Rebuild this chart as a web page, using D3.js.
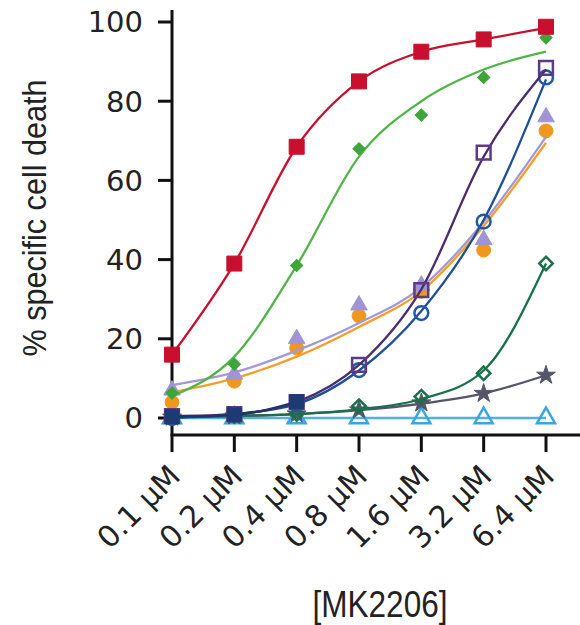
<!DOCTYPE html>
<html>
<head>
  <meta charset="utf-8">
  <script src="https://d3js.org/d3.v7.min.js"></script>
  <style>
    body { margin: 0; background: #fff; }
    text { font-family: "DejaVu Sans", sans-serif; fill: #222; }
  </style>
</head>
<body>
<script>
  // doses on the x axis (log2 spaced)
  var doses = [0.1, 0.2, 0.4, 0.8, 1.6, 3.2, 6.4];
  var doseLabels = ["0.1 \u03bcM", "0.2 \u03bcM", "0.4 \u03bcM", "0.8 \u03bcM", "1.6 \u03bcM", "3.2 \u03bcM", "6.4 \u03bcM"];
  var yTicks = [0, 20, 40, 60, 80, 100];

  // measured points
  var redPts      = [16, 39, 68.5, 85, 92.5, 95.6, 98.8];
  var greenPts    = [6.3, 13.6, 38.5, 68, 76.5, 86, 96];
  var purplePts   = [0.5, 1, 4, 13.4, 32.3, 67, 88.4];
  var bluePts     = [0, 1, 3.5, 12.1, 26.5, 49.6, 86];
  var lavPts      = [7, 11, 20, 28.5, 33.5, 45, 76];
  var orangePts   = [4, 9.3, 17.7, 25.8, 32, 42.4, 72.5];
  var dkgreenPts  = [0.2, 0.5, 1, 3, 5.4, 11.3, 39];
  var grayPts     = [0.2, 0.5, 1, 2, 3.8, 6.2, 10.8];
  var ltbluePts   = [0, 0, 0, 0, 0, 0, 0];
  var navyPts     = [0.3, 0.8, 4.1, null, null, null, null];

  // fitted curves
  var redFit     = [16, 39, 68.5, 85, 92.5, 95.6, 98.5];
  var greenFit   = [5.5, 15.5, 38.5, 66, 80, 88, 92.5];
  var purpleFit  = [0.5, 1, 4, 13.4, 32.5, 66, 88];
  var blueFit    = [0, 1, 3.5, 12, 27, 50, 85.5];
  var lavFit     = [8.3, 11.5, 17, 24, 33, 49.5, 71];
  var orangeFit  = [6.5, 10, 15.5, 23, 32, 48.5, 69.5];
  var dkgreenFit = [0.2, 0.5, 1, 2.2, 4.8, 12, 39];
  var grayFit    = [0.2, 0.5, 1, 2, 3.6, 6.2, 10.8];
  var ltblueFit  = [0, 0, 0, 0, 0, 0, 0];
  var navyFit    = [0.3, 0.8, 4.1, null, null, null, null];

  var series = [
    {pts: ltbluePts,  fit: ltblueFit,  line: "#52b0e2", color: "#3aa6dc", shape: d3.symbolTriangle, size: 140, open: true},
    {pts: grayPts,    fit: grayFit,    line: "#55556a", color: "#55556a", shape: d3.symbolStar,     size: 110, open: false},
    {pts: dkgreenPts, fit: dkgreenFit, line: "#1a7048", color: "#1a7048", shape: d3.symbolSquare,   size: 90,  open: true, rot: 45},
    {pts: orangePts,  fit: orangeFit,  line: "#f2a02a", color: "#f0981c", shape: d3.symbolCircle,   size: 150, open: false},
    {pts: lavPts,     fit: lavFit,     line: "#a498d8", color: "#a094d4", shape: d3.symbolTriangle, size: 120, open: false},
    {pts: bluePts,    fit: blueFit,    line: "#1f4f98", color: "#1f58a6", shape: d3.symbolCircle,   size: 150, open: true},
    {pts: purplePts,  fit: purpleFit,  line: "#4a2d6c", color: "#5b3a88", shape: d3.symbolSquare,   size: 190, open: true},
    {pts: navyPts,    fit: navyFit,    line: "#1d3568", color: "#1d3a72", shape: d3.symbolSquare,   size: 190, open: false},
    {pts: greenPts,   fit: greenFit,   line: "#4fb548", color: "#3ea53a", shape: d3.symbolSquare,   size: 75,  open: false, rot: 45},
    {pts: redPts,     fit: redFit,     line: "#c8102e", color: "#c8102e", shape: d3.symbolSquare,   size: 225, open: false}
  ];

  var width = 580, height = 625;
  var svg = d3.select("body").append("svg")
      .attr("width", width)
      .attr("height", height);

  var x = d3.scaleLog().domain([0.1, 6.4]).range([172, 546]);
  var y = d3.scaleLinear().domain([0, 100]).range([418, 22]);
  var axisY = 435;

  // axes lines
  svg.append("line")
      .attr("x1", 172).attr("x2", 172)
      .attr("y1", y(103)).attr("y2", axisY)
      .style("stroke", "#111").style("stroke-width", 3);
  svg.append("line")
      .attr("x1", 170.5).attr("x2", width)
      .attr("y1", axisY).attr("y2", axisY)
      .style("stroke", "#111").style("stroke-width", 3);

  // y ticks
  var yt = svg.append("g").selectAll("g").data(yTicks).enter().append("g");
  yt.append("line")
      .attr("x1", 158).attr("x2", 172)
      .attr("y1", function (d) { return y(d); })
      .attr("y2", function (d) { return y(d); })
      .style("stroke", "#111").style("stroke-width", 3);
  yt.append("text")
      .attr("x", 143)
      .attr("y", function (d) { return y(d); })
      .attr("dy", "0.36em")
      .attr("text-anchor", "end")
      .style("font-size", "29px")
      .text(function (d) { return d; });

  // x ticks
  var xt = svg.append("g").selectAll("g").data(doses).enter().append("g");
  xt.append("line")
      .attr("x1", function (d) { return x(d); })
      .attr("x2", function (d) { return x(d); })
      .attr("y1", axisY).attr("y2", axisY + 17)
      .style("stroke", "#111").style("stroke-width", 3);
  xt.append("text")
      .attr("transform", function (d) { return "translate(" + (x(d) + 10) + "," + (axisY + 43) + ") rotate(-45)"; })
      .attr("text-anchor", "end")
      .style("font-size", "30px")
      .text(function (d, i) { return doseLabels[i]; });

  // axis titles
  svg.append("text")
      .attr("x", 380).attr("y", 617)
      .attr("text-anchor", "middle")
      .attr("textLength", 135)
      .attr("lengthAdjust", "spacingAndGlyphs")
      .style("font-family", "'Liberation Sans Narrow', 'Liberation Sans', sans-serif")
      .style("font-size", "36px")
      .text("[MK2206]");
  svg.append("text")
      .attr("transform", "translate(46,218) rotate(-90)")
      .attr("text-anchor", "middle")
      .attr("textLength", 277)
      .attr("lengthAdjust", "spacingAndGlyphs")
      .style("font-family", "'Liberation Sans Narrow', 'Liberation Sans', sans-serif")
      .style("font-size", "33px")
      .text("% specific cell death");

  var line = d3.line()
      .defined(function (d) { return d.v !== null; })
      .x(function (d) { return x(d.dose); })
      .y(function (d) { return y(d.v); })
      .curve(d3.curveMonotoneX);

  series.forEach(function (s) {
    var fitData = doses.map(function (d, i) { return {dose: d, v: s.fit[i]}; });
    svg.append("path")
        .datum(fitData)
        .attr("d", line)
        .style("fill", "none")
        .style("stroke", s.line)
        .style("stroke-width", 2.3);

    var ptData = doses.map(function (d, i) { return {dose: d, v: s.pts[i]}; })
        .filter(function (d) { return d.v !== null; });
    svg.append("g").selectAll("path")
        .data(ptData).enter().append("path")
        .attr("transform", function (d) {
          return "translate(" + x(d.dose) + "," + y(d.v) + ") rotate(" + (s.rot || 0) + ")";
        })
        .attr("d", d3.symbol().type(s.shape).size(s.size))
        .style("fill", s.open ? "none" : s.color)
        .style("stroke", s.color)
        .style("stroke-width", s.open ? 2.5 : 1);
  });
</script>
</body>
</html>
